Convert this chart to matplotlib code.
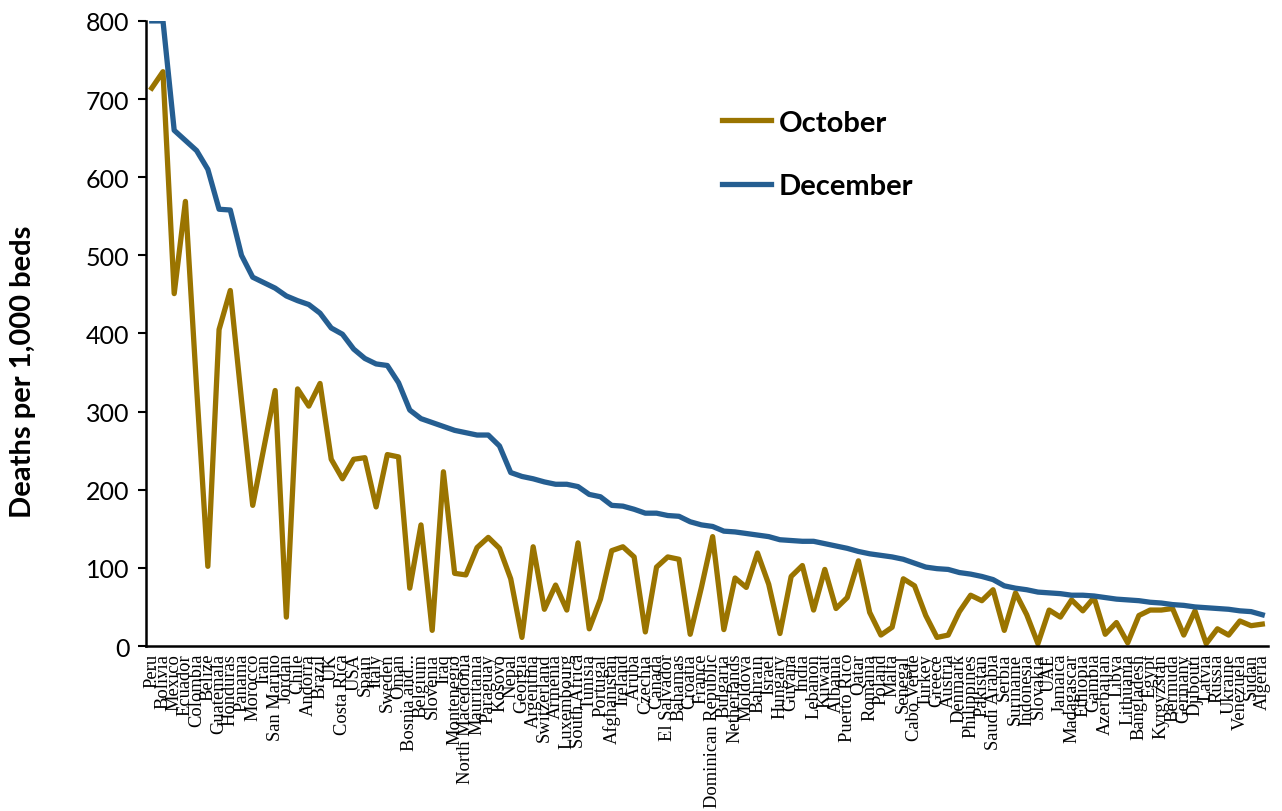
"""
    Deaths per 1,000 beds, October vs December
"""
import matplotlib
matplotlib.use("Agg")
import matplotlib.pyplot as plt

OCT_COLOR = "#9A7400"
DEC_COLOR = "#255E91"

countries = [
    "Peru", "Bolivia", "Mexico", "Ecuador", "Colombia", "Belize", "Guatemala",
    "Honduras", "Panama", "Morocco", "Iran", "San Marino", "Jordan", "Chile",
    "Andorra", "Brazil", "UK", "Costa Rica", "USA", "Spain", "Italy", "Sweden",
    "Oman", "Bosnia and...", "Belgium", "Slovenia", "Iraq", "Montenegro",
    "North Macedonia", "Mauritania", "Paraguay", "Kosovo", "Nepal", "Georgia",
    "Argentina", "Switzerland", "Armenia", "Luxembourg", "South Africa",
    "Tunisia", "Portugal", "Afghanistan", "Ireland", "Aruba", "Czechia",
    "Canada", "El Salvador", "Bahamas", "Croatia", "France",
    "Dominican Republic", "Bulgaria", "Netherlands", "Moldova", "Bahrain",
    "Israel", "Hungary", "Guyana", "India", "Lebanon", "Kuwait", "Albania",
    "Puerto Rico", "Qatar", "Romania", "Poland", "Malta", "Senegal",
    "Cabo Verde", "Turkey", "Greece", "Austria", "Denmark", "Philippines",
    "Pakistan", "Saudi Arabia", "Serbia", "Suriname", "Indonesia", "Slovakia",
    "UAE", "Jamaica", "Madagascar", "Ethiopia", "Gambia", "Azerbaijan",
    "Libya", "Lithuania", "Bangladesh", "Egypt", "Kyrgyzstan", "Bermuda",
    "Germany", "Djibouti", "Latvia", "Russia", "Ukraine", "Venezuela",
    "Sudan", "Algeria",
]

october = [
    714, 735, 451, 569, 330, 102, 405, 455, 315, 180,
    254, 327, 37, 329, 307, 336, 239, 214, 239, 241,
    178, 245, 242, 74, 155, 20, 223, 93, 91, 126,
    139, 125, 86, 11, 127, 47, 78, 46, 132, 22,
    60, 122, 127, 114, 18, 101, 114, 111, 15, 75,
    140, 21, 87, 75, 119, 79, 16, 89, 103, 46,
    98, 48, 62, 109, 43, 14, 24, 86, 77, 39,
    11, 14, 44, 65, 58, 72, 20, 68, 40, 3,
    46, 37, 59, 45, 62, 15, 30, 4, 39, 46,
    46, 48, 14, 45, 3, 22, 14, 32, 26, 28,
]

december = [
    800, 800, 660, 647, 634, 610, 559, 558, 500, 472,
    465, 458, 448, 442, 437, 426, 407, 399, 380, 368,
    361, 359, 337, 302, 291, 286, 281, 276, 273, 270,
    270, 256, 222, 217, 214, 210, 207, 207, 204, 194,
    191, 180, 179, 175, 170, 170, 167, 166, 159, 155,
    153, 147, 146, 144, 142, 140, 136, 135, 134, 134,
    131, 128, 125, 121, 118, 116, 114, 111, 106, 101,
    99, 98, 94, 92, 89, 85, 77, 74, 72, 69,
    68, 67, 65, 65, 64, 62, 60, 59, 58, 56,
    55, 53, 52, 50, 49, 48, 47, 45, 44, 40,
]

y_ticks = list(range(0, 801, 100))


def main() -> None:
    fig = plt.figure(figsize=(12.82, 8.12), dpi=100)
    ax = fig.add_axes([0.114, 0.2032, 0.875, 0.7698])

    x = list(range(len(countries)))
    ax.plot(x, october, color=OCT_COLOR, lw=3.8, label="October",
            solid_joinstyle="round")
    ax.plot(x, december, color=DEC_COLOR, lw=3.8, label="December",
            solid_joinstyle="round")

    ax.set_xlim(-0.5, len(countries) - 0.5)
    ax.set_ylim(0, 800)
    ax.set_yticks(y_ticks)
    ax.set_yticklabels([str(t) for t in y_ticks], fontfamily="Lato",
                       fontsize=18)
    ax.tick_params(axis="y", direction="out", length=6, width=1.5, pad=6)

    ax.set_xticks(x)
    ax.set_xticklabels(countries, rotation=90, fontfamily="Liberation Serif",
                       fontsize=13.3, va="top", ha="center")
    ax.tick_params(axis="x", length=0, pad=5)

    for side in ("top", "right"):
        ax.spines[side].set_visible(False)
    for side in ("left", "bottom"):
        ax.spines[side].set_linewidth(1.8)

    # label sits lower than the axis centre, as in the source chart
    ax.set_ylabel("Deaths per 1,000 beds", fontfamily="Lato",
                  fontweight="bold", fontsize=21)
    ax.yaxis.set_label_coords(-0.098, 0.441)

    ax.legend(loc="upper left", bbox_to_anchor=(0.513, 0.858), frameon=False,
              prop={"family": "Lato", "weight": "bold", "size": 21},
              handlelength=1.7, handletextpad=0.25, labelspacing=1.27,
              borderpad=0, borderaxespad=0)

    fig.savefig("out.png", dpi=100)


if __name__ == "__main__":
    main()
